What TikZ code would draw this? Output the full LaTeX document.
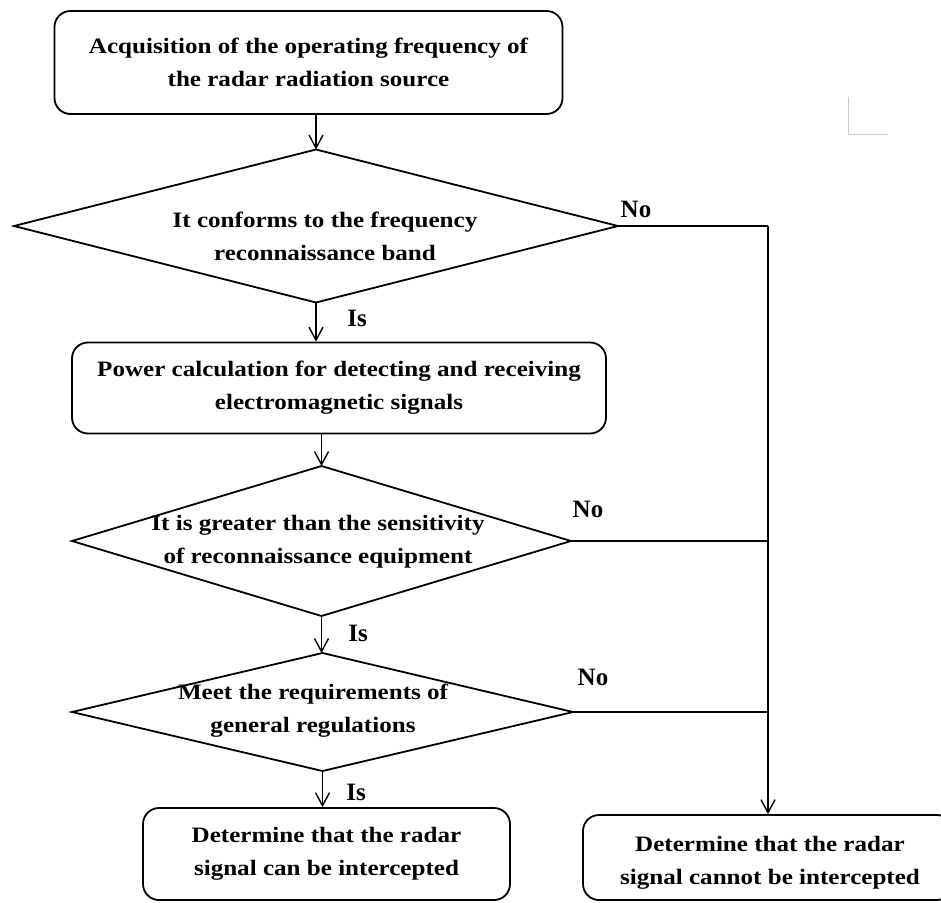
\documentclass[tikz,border=0pt]{standalone}
\usepackage{fontspec}
\setmainfont{Liberation Serif}[FakeStretch=1.14]
\newfontfamily\lblfont{Liberation Serif}
\usetikzlibrary{shapes.geometric,arrows.meta,calc}
\begin{document}
\begin{tikzpicture}[x=1pt,y=-1pt,
  box/.style={draw, line width=1.8pt, rounded corners=16pt, align=center, inner sep=0pt,
              font=\fontsize{22}{33}\selectfont\bfseries},
  dia/.style={draw, diamond, line width=1.8pt, inner sep=0pt, outer sep=0pt},
  txt/.style={align=center, inner sep=0pt, font=\fontsize{22}{33}\selectfont\bfseries},
  lbl/.style={inner sep=0pt, font=\lblfont\fontsize{25}{28}\selectfont\bfseries},
  arr/.style={line width=1.4pt, -{Straight Barb[length=13pt,width=14pt]}},
  ln/.style={line width=1.8pt}]
\useasboundingbox (0,0) rectangle (941,902);
\fill[white] (0,0) rectangle (941,902);

% boxes
\node[box, minimum width=508pt, minimum height=103pt] (b1) at (308.5,62.5)
  {Acquisition of the operating frequency of\\the radar radiation source};
\node[box, minimum width=534pt, minimum height=91pt] (b2) at (339,388)
  {Power calculation for detecting and receiving\\electromagnetic signals};
\node[box, minimum width=367pt, minimum height=92pt] (b4) at (326.5,854)
  {Determine that the radar\\signal can be intercepted};
\node[box, minimum width=370pt, minimum height=85pt] (b5) at (768,857.5) {};
\node[txt] (t5) at (770,863) {Determine that the radar\\signal cannot be intercepted};

% diamonds
\node[dia, minimum width=604pt, minimum height=153pt] (d1) at (316,226) {};
\node[txt] (t1) at (325,236) {It conforms to the frequency\\reconnaissance band};
\node[dia, minimum width=499pt, minimum height=150pt] (d2) at (321.5,541) {};
\node[txt] (t2) at (318,542) {It is greater than the sensitivity\\of reconnaissance equipment};
\node[dia, minimum width=501pt, minimum height=118pt] (d3) at (322.5,712) {};
\node[txt] (t3) at (313,711) {Meet the requirements of\\general regulations};

% main flow
\draw[arr] (b1.south -| d1.north) -- (d1.north);
\draw[arr] (d1.south) -- (b2.north -| d1.south);
\draw[arr] (b2.south -| d2.north) -- (d2.north);
\draw[arr] (d2.south) -- (d2.south |- d3.north);
\draw[arr] (d3.south) -- (b4.north -| d3.south);

% No branches
\draw[ln] (d1.east) -- (d1.east -| b5.north) coordinate (j1);
\draw[arr] (j1) -- (b5.north);
\draw[ln] (d2.east) -- (d2.east -| b5.north);
\draw[ln] (d3.east) -- (d3.east -| b5.north);

% labels
\node[lbl] (no1) at (636,209) {No};
\node[lbl] (no2) at (588,509) {No};
\node[lbl] (no3) at (593,677) {No};
\node[lbl] (is1) at (357,318) {Is};
\node[lbl] (is2) at (358,633) {Is};
\node[lbl] (is3) at (356,792) {Is};

% faint screenshot mark
\draw[black!20, line width=1pt] (848,97) -- (848,134) -- (888,134);
\end{tikzpicture}
\end{document}
